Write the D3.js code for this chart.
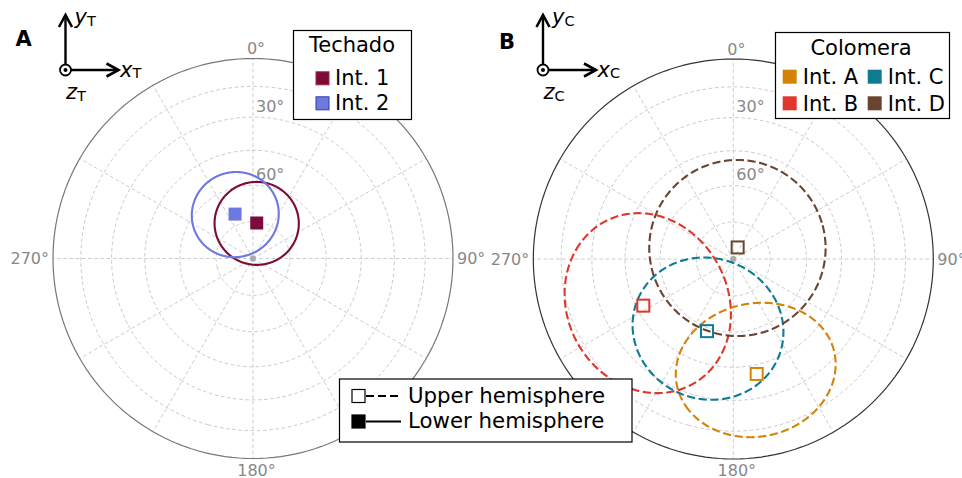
<!DOCTYPE html>
<html>
<head>
<meta charset="utf-8">
<script src="https://cdn.jsdelivr.net/npm/d3@7"></script>
<style>
  body { margin: 0; background: #fff; }
  svg { display: block; font-family: "DejaVu Sans", sans-serif; }
</style>
</head>
<body>
<div id="chart"></div>
<script>
// azimuth ticks, elevation rings and spokes of the nets
var azTicks = [0, 90, 180, 270];
var azLabels = ["0°", "90°", "180°", "270°"];
var ringElev = [15, 30, 45, 60, 75];
var ringLabelElev = [30, 60];
var ringLabels = ["30°", "60°"];
var spokeAz = [0, 30, 60, 90, 120, 150, 180, 210, 240, 270, 300, 330];

// Techado (lower hemisphere): trend, elevation and cone half-angle
var techadoNames = ["Int. 1", "Int. 2"];
var techadoTrend = [6, 338];
var techadoElev = [75.5, 70.5];
var techadoCone = [17, 17.5];
var techadoColors = ["#7a0b3b", "#6d79de"];

// Colomera (upper hemisphere)
var colomeraNames = ["Int. A", "Int. B", "Int. C", "Int. D"];
var colomeraTrend = [168.5, 242.6, 200, 20.6];
var colomeraElev = [41, 48, 58.5, 85];
var colomeraCone = [30, 35.5, 30, 36.3];
var colomeraColors = ["#d48306", "#e0362b", "#0e7b93", "#6b4431"];

var hemiNames = ["Upper hemisphere", "Lower hemisphere"];

var width = 962, height = 478, R = 200;
var dash = "8.2,3.6";

var svg = d3.select("#chart").append("svg")
  .attr("width", width)
  .attr("height", height);

function makeProj(cx, cy) {
  return d3.geoAzimuthalEqualArea()
    .rotate([0, -90])
    .scale(R / Math.SQRT2)
    .translate([cx, cy])
    .precision(0.1);
}

function drawNet(cx, cy, rimColor) {
  var proj = makeProj(cx, cy);
  var path = d3.geoPath(proj);
  var g = svg.append("g");

  g.selectAll(".ring")
    .data(ringElev)
    .enter().append("path")
    .attr("d", function(e) { return path(d3.geoCircle().center([0, 90]).radius(90 - e)()); })
    .attr("fill", "none")
    .attr("stroke", "#cccccc")
    .attr("stroke-width", 1)
    .attr("stroke-dasharray", "3.7,2.5");

  g.selectAll(".spoke")
    .data(spokeAz)
    .enter().append("path")
    .attr("d", function(az) {
      return path({type: "LineString", coordinates: [[180 - az, 89.999], [180 - az, 0]]});
    })
    .attr("fill", "none")
    .attr("stroke", "#cccccc")
    .attr("stroke-width", 1)
    .attr("stroke-dasharray", "3.7,2.5");

  g.append("path")
    .attr("d", path(d3.geoCircle().center([0, 90]).radius(89.999)()))
    .attr("fill", "none")
    .attr("stroke", rimColor)
    .attr("stroke-width", 1.2);

  g.append("circle")
    .attr("cx", cx).attr("cy", cy).attr("r", 3)
    .attr("fill", "#aaaaaa");

  azTicks.forEach(function(az, i) {
    var p = proj([180 - az, 0]);
    var tx = p[0], ty = p[1], anchor = "middle";
    if (az == 0) { tx += 3; ty -= 10; }
    if (az == 180) { tx += 3.5; ty += 11.5; }
    if (az == 90) { tx += 4; anchor = "start"; }
    if (az == 270) { tx -= 4; anchor = "end"; }
    g.append("text")
      .attr("x", tx).attr("y", ty)
      .attr("text-anchor", anchor)
      .attr("dominant-baseline", "central")
      .attr("fill", "#888888")
      .style("font-size", "16px")
      .text(azLabels[i]);
  });

  ringLabelElev.forEach(function(e, i) {
    var p = proj([180, e]);
    g.append("text")
      .attr("x", p[0] + 3).attr("y", p[1] - 5.5)
      .attr("fill", "#888888")
      .style("font-size", "16px")
      .text(ringLabels[i]);
  });

  return {proj: proj, path: path, g: g};
}

function drawCones(net, trend, elev, cone, colors, dashed) {
  trend.forEach(function(az, i) {
    net.g.append("path")
      .attr("d", net.path(d3.geoCircle().center([180 - az, elev[i]]).radius(cone[i]).precision(0.5)()))
      .attr("fill", "none")
      .attr("stroke", colors[i])
      .attr("stroke-width", 2.1)
      .attr("stroke-dasharray", dashed ? dash : null);
  });
  trend.forEach(function(az, i) {
    var p = net.proj([180 - az, elev[i]]);
    if (dashed) {
      net.g.append("rect")
        .attr("x", p[0] - 6).attr("y", p[1] - 6)
        .attr("width", 12).attr("height", 12)
        .attr("fill", "none")
        .attr("stroke", colors[i])
        .attr("stroke-width", 2);
    } else {
      net.g.append("rect")
        .attr("x", p[0] - 6.5).attr("y", p[1] - 6.5)
        .attr("width", 13).attr("height", 13)
        .attr("fill", colors[i]);
    }
  });
}

var netA = drawNet(253, 258.5, "#777777");
var netB = drawNet(733.3, 259, "#333333");

drawCones(netA, techadoTrend, techadoElev, techadoCone, techadoColors, false);
drawCones(netB, colomeraTrend, colomeraElev, colomeraCone, colomeraColors, true);

// panel letters
svg.append("text").attr("x", 15.5).attr("y", 45.5)
  .style("font-size", "21px").style("font-weight", "bold").text("A");
svg.append("text").attr("x", 499).attr("y", 48.5)
  .style("font-size", "21px").style("font-weight", "bold").text("B");

// coordinate triads
function drawTriad(ox, oy, sub) {
  var g = svg.append("g");
  g.append("line").attr("x1", ox).attr("y1", oy - 5.5).attr("x2", ox).attr("y2", oy - 54.5)
    .attr("stroke", "#000").attr("stroke-width", 2.4);
  g.append("path").attr("d", "M" + (ox - 6.5) + "," + (oy - 43) + "L" + ox + "," + (oy - 55) + "L" + (ox + 6.5) + "," + (oy - 43))
    .attr("fill", "none").attr("stroke", "#000").attr("stroke-width", 2.6);
  g.append("line").attr("x1", ox + 5.5).attr("y1", oy).attr("x2", ox + 53).attr("y2", oy)
    .attr("stroke", "#000").attr("stroke-width", 2.4);
  g.append("path").attr("d", "M" + (ox + 41) + "," + (oy - 6.5) + "L" + (ox + 53) + "," + oy + "L" + (ox + 41) + "," + (oy + 6.5))
    .attr("fill", "none").attr("stroke", "#000").attr("stroke-width", 2.6);
  g.append("circle").attr("cx", ox).attr("cy", oy).attr("r", 5.5)
    .attr("fill", "#fff").attr("stroke", "#000").attr("stroke-width", 1.8);
  g.append("circle").attr("cx", ox).attr("cy", oy).attr("r", 2).attr("fill", "#000");

  var labels = [["y", ox + 9, oy - 46], ["x", ox + 54.5, oy + 6.5], ["z", ox + 0.5, oy + 29]];
  labels.forEach(function(l) {
    var t = g.append("text").attr("x", l[1]).attr("y", l[2]).style("font-size", "21px");
    t.append("tspan").style("font-style", "italic").text(l[0]);
    t.append("tspan").attr("dy", 1.5).style("font-size", "14.5px").text(sub);
  });
}
drawTriad(65.5, 70, "T");
drawTriad(543, 70, "C");

// Techado legend
var lgA = svg.append("g");
lgA.append("rect").attr("x", 293.5).attr("y", 30.5).attr("width", 118).attr("height", 89)
  .attr("fill", "#fff").attr("stroke", "#000").attr("stroke-width", 1.2);
lgA.append("text").attr("x", 352).attr("y", 52).attr("text-anchor", "middle")
  .style("font-size", "21px").text("Techado");
var legEdge = ["#a8262c", "#2b3bab"];
techadoNames.forEach(function(name, i) {
  var y = 78.3 + i * 25;
  lgA.append("rect").attr("x", 316).attr("y", y - 6.5).attr("width", 13).attr("height", 13)
    .attr("fill", techadoColors[i]).attr("stroke", legEdge[i]).attr("stroke-width", 1);
  lgA.append("text").attr("x", 335).attr("y", y + 7).style("font-size", "21px").text(name);
});

// Colomera legend
var lgB = svg.append("g");
lgB.append("rect").attr("x", 775.5).attr("y", 32.5).attr("width", 174).attr("height", 86)
  .attr("fill", "#fff").attr("stroke", "#000").attr("stroke-width", 1.2);
lgB.append("text").attr("x", 861).attr("y", 54.5).attr("text-anchor", "middle")
  .style("font-size", "21px").text("Colomera");
colomeraNames.forEach(function(name, i) {
  var col = Math.floor(i / 2), row = i % 2;
  var x = 782.7 + col * 85, y = 76.7 + row * 26.6;
  lgB.append("rect").attr("x", x).attr("y", y - 7).attr("width", 14).attr("height", 14)
    .attr("fill", colomeraColors[i]);
  lgB.append("text").attr("x", x + 20).attr("y", y + 7.5).style("font-size", "21px").text(name);
});

// hemisphere legend
var lgC = svg.append("g");
lgC.append("rect").attr("x", 339.5).attr("y", 379).attr("width", 292.5).attr("height", 63)
  .attr("fill", "#fff").attr("stroke", "#000").attr("stroke-width", 1.2);
hemiNames.forEach(function(name, i) {
  var y = 396 + i * 25.5;
  lgC.append("rect").attr("x", 352).attr("y", y - 6.5).attr("width", 13).attr("height", 13)
    .attr("fill", i == 0 ? "#fff" : "#000").attr("stroke", "#000").attr("stroke-width", 1.2);
  lgC.append("line").attr("x1", 366).attr("y1", y).attr("x2", 401).attr("y2", y)
    .attr("stroke", "#000").attr("stroke-width", 2)
    .attr("stroke-dasharray", i == 0 ? "8,4" : null);
  lgC.append("text").attr("x", 408).attr("y", y + 6.5).style("font-size", "21.3px").text(name);
});
</script>
</body>
</html>
